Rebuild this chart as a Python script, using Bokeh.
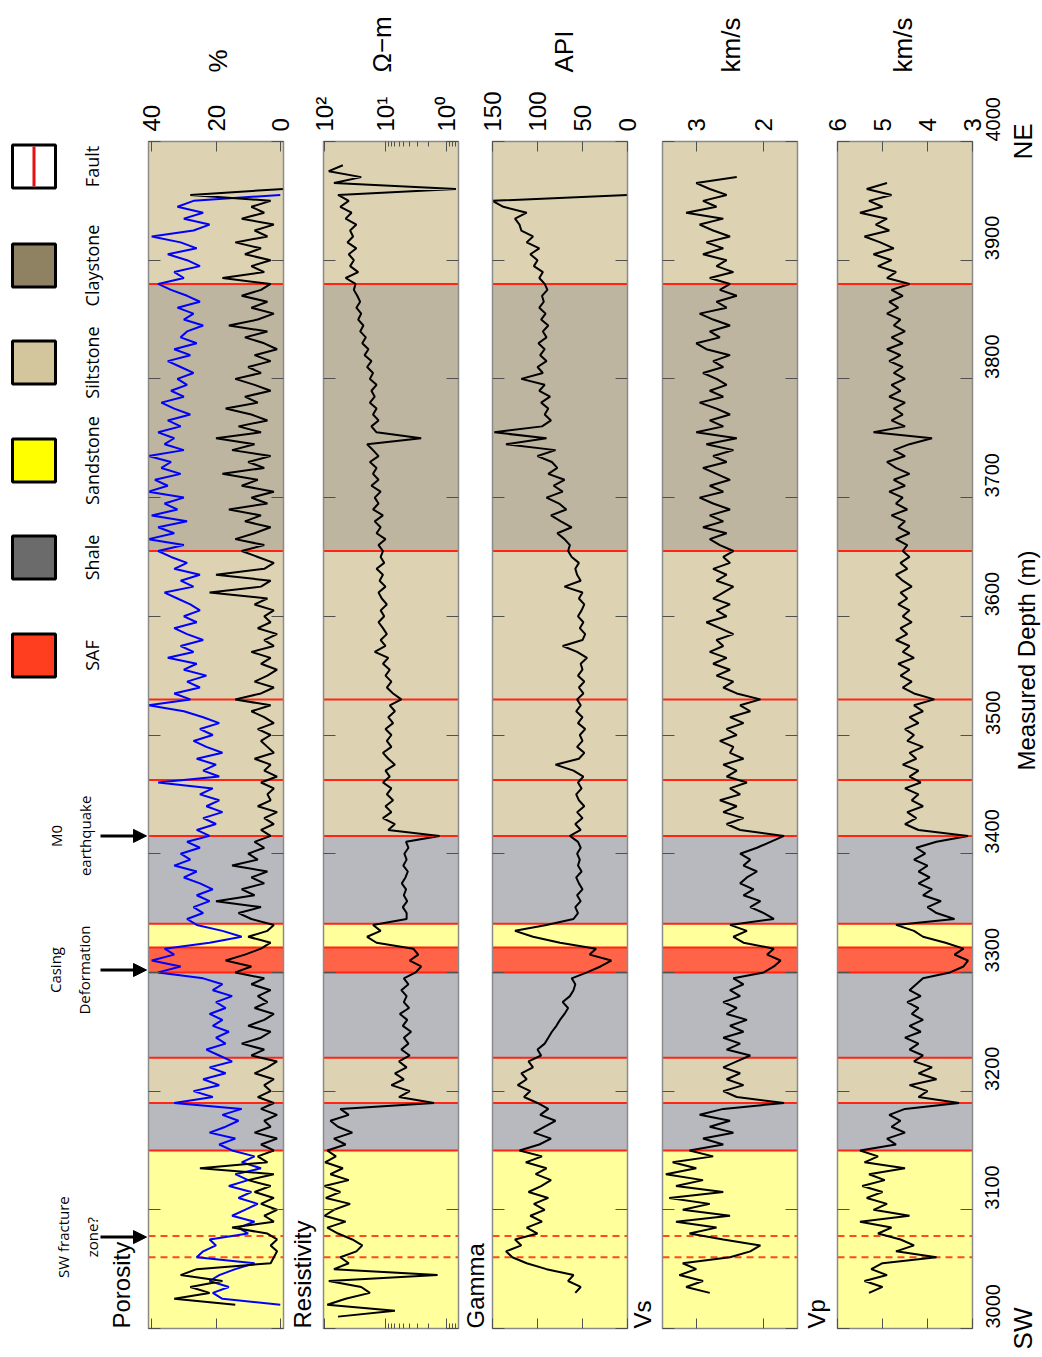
import math
import numpy as np
from bokeh.plotting import figure
from bokeh.models import (Range1d, LinearAxis, LogAxis, LogScale, FixedTicker,
                          ColumnDataSource, Arrow, NormalHead)
from bokeh.core.properties import value
from bokeh.embed import file_html
from bokeh.resources import INLINE

# ---------------- lithology column and markers (measured depth, m) ----------------
LITH_BASE = [3000, 3150, 3190, 3228, 3300, 3321, 3341, 3415, 3655, 3880]
LITH_TOP = [3150, 3190, 3228, 3300, 3321, 3341, 3415, 3655, 3880, 4000]
LITH_KIND = ["Sandstone", "Shale", "Siltstone", "Shale", "SAF", "Sandstone",
             "Shale", "Siltstone", "Claystone", "Siltstone"]
FAULTS = [3150, 3190, 3228, 3300, 3321, 3341, 3415, 3462, 3530, 3655, 3880]
FRACTURE_ZONE = [3060, 3078]

EVENT_DEPTH = [3077, 3302, 3415]
EVENT_TEXT = ["SW fracture\nzone?", "Casing\nDeformation", "M0\nearthquake"]

LEGEND_NAMES = ["SAF", "Shale", "Sandstone", "Siltstone", "Claystone", "Fault"]
LEGEND_COLORS = ["#FF3D1F", "#6B6B6B", "#FFFF00", "#D3C69C", "#8E8263", "#FFFFFF"]

DEPTH_TICKS = [3000, 3100, 3200, 3300, 3400, 3500, 3600, 3700, 3800, 3900, 4000]

# ---------------- log curves, sampled every 5 m ----------------
STEP = 5

POR_TOP = 3020
POROSITY = [
    14, 33, 22, 28, 18, 31, 26, 3, 2, 1,
    3, 1, 4, 15, 2, 5, 1, 6, 2, 8,
    3, 10, 2, 25, 4, 7, 2, 6, 1, 8,
    3, 5, 1, 6, 2, 7, 3, 5, 2, 8,
    4, 1, 9, 5, 12, 6, 3, 10, 5, 2,
    8, 4, 7, 3, 9, 5, 14, 9, 17, 11,
    6, 3, 10, 4, 2, 9, 13, 6, 20, 8,
    12, 5, 9, 4, 15, 7, 10, 5, 8, 3,
    6, 2, 5, 1, 7, 3, 4, 2, 6, 1,
    5, 3, 8, 2, 4, 6, 3, 7, 2, 5,
    9, 3, 14, 6, 2, 8, 4, 1, 6, 3,
    9, 2, 5, 1, 7, 3, 5, 2, 8, 4,
    22, 6, 3, 20, 5, 2, 7, 12, 5, 14,
    8, 3, 11, 6, 16, 4, 9, 2, 12, 7,
    18, 5, 10, 3, 15, 8, 20, 6, 13, 4,
    9, 17, 7, 11, 3, 8, 14, 6, 10, 3,
    8, 1, 5, 11, 4, 16, 7, 2, 9, 4,
    12, 6, 3, 18, 5, 9, 3, 11, 6, 14,
    4, 8, 2, 12, 5, 9, 3, 28, -1,
]

POR2_TOP = 3020
POROSITY_2 = [
    0, 18, 21, 16, 22, 19, 14, 8, 26, 24,
    20, 22, 10, 13, 8, 15, 11, 7, 13, 9,
    16, 10, 14, 6, 12, 8, 15, 19, 14, 22,
    17, 13, 18, 12, 33, 21, 27, 19, 24, 17,
    22, 15, 19, 23, 17, 20, 16, 21, 18, 22,
    17, 20, 15, 21, 18, 24, 38, 31, 40, 33,
    36, 22, 12, 18, 26, 29, 24, 27, 22, 26,
    21, 25, 30, 26, 33, 28, 31, 25, 29, 22,
    26, 20, 24, 18, 23, 19, 25, 21, 38, 19,
    24, 20, 26, 18, 23, 27, 21, 25, 19, 24,
    30, 41, 28, 33, 25, 29, 23, 30, 26, 35,
    27, 31, 24, 29, 33, 26, 30, 25, 28, 32,
    36, 27, 31, 25, 33, 29, 34, 38, 30, 41,
    33, 38, 29, 40, 32, 36, 30, 41, 35, 39,
    31, 37, 34, 41, 30, 36, 33, 38, 31, 35,
    28, 33, 37, 30, 34, 29, 32, 27, 31, 35,
    28, 33, 26, 31, 29, 24, 30, 27, 32, 25,
    29, 34, 38, 30, 33, 25, 29, 35, 26, 31,
    40, 27, 22, 30, 24, 32, 27, 0,
]

RES_TOP = 3010
RESISTIVITY = [
    60, 7, 90, 45, 18, 25, 85, 1.4, 70, 40,
    55, 30, 24, 35, 60, 90, 45, 100, 70, 38,
    95, 55, 100, 40, 80, 50, 98, 65, 90, 45,
    70, 35, 60, 80, 40, 55, 1.6, 6, 4, 8,
    5, 7, 4.5, 6, 4, 5.5, 4.2, 5, 3.8, 5.2,
    4.4, 5.8, 4.1, 5, 4.5, 5.5, 4.2, 5, 3.2, 2.6,
    4, 2.9, 3.5, 14, 20, 12, 16, 4.5, 4.5, 5.2,
    4.4, 5, 4.6, 5.4, 4.7, 4.3, 5.1, 4.5, 4.9, 4.2,
    4.6, 1.3, 9, 7, 11, 8, 10, 7.5, 9.5, 8,
    11, 8.5, 10, 7, 9, 11, 8, 9.5, 8, 10,
    7.5, 9, 7, 8.5, 5.5, 7.5, 9.5, 8, 10, 8.5,
    11, 9, 15, 10, 12, 9.5, 11, 13, 10.5, 12,
    9.5, 11.5, 13, 10, 12.5, 11, 14, 10.5, 12, 11,
    13, 10, 14, 12, 15, 11, 16, 13, 15, 12,
    17, 13, 16, 14, 18, 13, 16, 20, 2.6, 14,
    17, 13, 16, 14, 18, 15, 17, 14, 18, 16,
    20, 17, 22, 19, 24, 21, 26, 23, 28, 25,
    30, 26, 29, 33, 31, 45, 28, 38, 33, 40,
    30, 42, 34, 38, 30, 45, 36, 55, 40, 60,
    0.7, 70, 25, 85, 50,
]

GR_TOP = 3030
GAMMA = [
    58, 52, 66, 60, 90, 112, 128, 135, 118, 125,
    100, 112, 95, 108, 92, 104, 88, 110, 96, 85,
    102, 90, 113, 95, 120, 98, 85, 104, 92, 80,
    97, 88, 100, 115, 108, 122, 112, 118, 105, 110,
    96, 100, 92, 88, 84, 79, 75, 70, 66, 72,
    64, 60, 58, 62, 45, 30, 18, 42, 35, 75,
    105, 125, 90, 60, 55, 58, 52, 56, 50, 54,
    57, 51, 55, 53, 56, 52, 55, 64, 52, 58,
    50, 56, 48, 54, 57, 51, 55, 49, 60, 80,
    54, 48, 56, 50, 53, 47, 55, 50, 57, 52,
    56, 49, 54, 48, 55, 50, 52, 45, 56, 72,
    50, 47, 53, 49, 55, 51, 48, 54, 50, 70,
    52, 56, 58, 54, 62, 66, 64, 70, 78, 62,
    74, 85, 68, 76, 90, 72, 82, 70, 88, 78,
    84, 100, 80, 135, 90, 148, 95, 85, 92, 88,
    96, 86, 98, 92, 118, 94, 100, 90, 97, 92,
    99, 90, 94, 88, 96, 91, 98, 93, 95, 89,
    92, 98, 94, 104, 100, 108, 98, 112, 105, 118,
    120, 125, 112, 138, 150, 0,
]

VS_TOP = 3030
VS = [
    2.8, 3.15, 2.9, 3.25, 3.0, 3.2, 2.5, 2.2, 2.05, 2.6,
    3.1, 2.7, 3.3, 2.5, 3.2, 2.8, 3.4, 2.6, 3.3, 2.9,
    3.45, 3.0, 3.35, 2.75, 3.1, 2.6, 2.9, 2.45, 2.8, 2.5,
    2.95, 2.6, 1.7, 2.4, 2.6, 2.3, 2.55, 2.35, 2.6, 2.4,
    2.2, 2.55, 2.35, 2.6, 2.3, 2.5, 2.25, 2.55, 2.4, 2.6,
    2.35, 2.5, 2.3, 2.45, 2.0, 1.85, 1.75, 1.95, 1.85, 2.3,
    2.45, 2.25, 2.5, 1.85, 2.0, 2.2, 2.05, 2.3, 2.15, 2.35,
    2.25, 2.1, 2.3, 2.2, 2.35, 2.1, 1.9, 1.7, 2.35, 2.55,
    2.3, 2.6, 2.4, 2.65, 2.35, 2.5, 2.25, 2.55, 2.4, 2.6,
    2.3, 2.5, 2.45, 2.65, 2.4, 2.55, 2.3, 2.5, 2.2, 2.35,
    2.05, 2.4, 2.6, 2.45, 2.7, 2.5, 2.75, 2.55, 2.8, 2.6,
    2.7, 2.45, 2.65, 2.85, 2.55, 2.7, 2.5, 2.75, 2.6, 2.45,
    2.7, 2.55, 2.75, 2.5, 2.6, 2.45, 2.65, 2.8, 2.55, 2.9,
    2.6, 2.8, 2.5, 2.75, 2.95, 2.6, 2.8, 2.5, 2.7, 2.9,
    2.55, 2.75, 2.45, 2.85, 2.4, 3.0, 2.6, 2.8, 2.5, 2.7,
    2.95, 2.6, 2.8, 2.55, 2.7, 2.9, 2.6, 2.75, 2.5, 2.85,
    3.0, 2.65, 2.8, 2.5, 2.75, 2.95, 2.55, 2.7, 2.4, 2.65,
    2.5, 2.8, 2.45, 2.7, 2.55, 2.9, 2.6, 2.85, 2.5, 2.75,
    2.95, 2.6, 3.15, 2.7, 2.9, 2.55, 2.8, 3.0, 2.4,
]

VP_TOP = 3030
VP = [
    5.3, 5.0, 5.4, 4.9, 5.25, 5.0, 3.8, 4.7, 4.3, 4.6,
    5.1, 4.8, 5.5, 4.4, 5.2, 4.9, 5.35, 5.0, 5.45, 4.95,
    5.3, 4.5, 5.4, 5.1, 5.5, 4.7, 4.9, 4.5, 4.8, 4.6,
    4.85, 4.5, 3.3, 4.2, 4.0, 4.4, 3.8, 4.2, 3.9, 4.3,
    4.1, 4.4, 4.2, 4.5, 4.15, 4.4, 4.1, 4.35, 4.2, 4.45,
    4.15, 4.4, 4.25, 4.1, 3.5, 3.2, 3.1, 3.4, 3.2, 3.6,
    4.1, 4.3, 4.7, 3.4, 3.8, 4.0, 3.7, 4.1, 3.9, 4.2,
    3.95, 4.2, 4.0, 4.3, 4.05, 4.25, 3.8, 3.1, 4.2, 4.5,
    4.25, 4.45, 4.1, 4.35, 4.2, 4.5, 4.15, 4.4, 4.2, 4.55,
    4.25, 4.4, 4.1, 4.45, 4.3, 4.5, 4.2, 4.4, 4.1, 4.3,
    3.85, 4.3, 4.55, 4.35, 4.6, 4.4, 4.65, 4.3, 4.55, 4.4,
    4.7, 4.45, 4.6, 4.35, 4.55, 4.4, 4.65, 4.45, 4.6, 4.35,
    4.55, 4.7, 4.45, 4.6, 4.4, 4.55, 4.45, 4.7, 4.4, 4.65,
    4.5, 4.8, 4.45, 4.7, 4.55, 4.85, 4.5, 4.75, 4.4, 4.7,
    4.9, 4.5, 4.75, 4.4, 3.9, 5.2, 4.5, 4.8, 4.55, 4.75,
    4.5, 4.85, 4.6, 4.8, 4.5, 4.75, 4.55, 4.85, 4.6, 4.9,
    4.55, 4.8, 4.5, 4.75, 4.6, 4.9, 4.65, 4.85, 4.55, 4.8,
    4.4, 4.9, 4.7, 5.1, 4.8, 5.2, 4.75, 5.05, 5.4, 4.85,
    5.15, 4.9, 5.5, 5.0, 5.3, 4.8, 5.35, 4.9,
]


def depths(top, vals):
    return list(np.arange(len(vals)) * STEP + top)


# ---------------- page geometry ----------------
W, H = 1042, 1357
PAD_TOP, PAD_BOTTOM = 141, 29          # track tops / bottoms on the page
DEPTH_MIN, DEPTH_MAX = 3000, 4000
M_PER_PX = (DEPTH_MAX - DEPTH_MIN) / (H - PAD_TOP - PAD_BOTTOM)

FILL = {
    "Sandstone": "#FFFF9C",
    "Shale": "#B8B8BF",
    "Siltstone": "#DDD3B3",
    "Claystone": "#BEB5A0",
    "SAF": "#FF6449",
}
FAULT_RED = "#FF2414"
TICK_COLOR = "#505050"
SANS = "Liberation Sans"
HUMANIST = "Open Sans"

# track layout: value limits at the left/right edge, and the page column it occupies
TRACKS = [
    dict(key="por", name="Porosity", unit="%", lim=(41, -1), cols=(148, 283),
         ticks=[0, 20, 40], name_x=121, unit_x=217),
    dict(key="res", name="Resistivity", unit="\u03a9\u2212m", lim=(103.8, 0.635),
         cols=(323, 458), ticks=[1, 10, 100], log=True,
         minor=[0.7, 0.8, 0.9, 2, 3, 4, 5, 6, 7, 8, 9],
         overrides={1: "10\u2070", 10: "10\u00b9", 100: "10\u00b2"},
         name_x=302, unit_x=381),
    dict(key="gam", name="Gamma", unit="API", lim=(150, 0), cols=(492, 627),
         ticks=[0, 50, 100, 150], name_x=475, unit_x=563),
    dict(key="vs", name="Vs", unit="km/s", lim=(3.5, 1.5), cols=(662, 797),
         ticks=[2, 3], name_x=642, unit_x=730),
    dict(key="vp", name="Vp", unit="km/s", lim=(6, 3), cols=(837, 972),
         ticks=[3, 4, 5, 6], name_x=816, unit_x=902),
]

CURVES = {
    "por": [(POROSITY_2, depths(POR2_TOP, POROSITY_2), "#0000FF"),
            (POROSITY, depths(POR_TOP, POROSITY), "black")],
    "res": [(RESISTIVITY, depths(RES_TOP, RESISTIVITY), "black")],
    "gam": [(GAMMA, depths(GR_TOP, GAMMA), "black")],
    "vs": [(VS, depths(VS_TOP, VS), "black")],
    "vp": [(VP, depths(VP_TOP, VP), "black")],
}


def page_range(lim, cols, log=False):
    """Range over the full page width that puts lim[0] at cols[0] and lim[1] at cols[1]."""
    a, b = lim
    if log:
        a, b = math.log10(a), math.log10(b)
    slope = (b - a) / (cols[1] - cols[0])
    start = a - cols[0] * slope
    end = a + (W - cols[0]) * slope
    if log:
        return Range1d(10 ** start, 10 ** end)
    return Range1d(start, end)


p = figure(frame_width=W, frame_height=H,
           x_range=Range1d(0, W),
           y_range=Range1d(DEPTH_MIN - PAD_BOTTOM * M_PER_PX, DEPTH_MAX + PAD_TOP * M_PER_PX),
           x_axis_location=None, y_axis_location=None, min_border=0,
           output_backend="svg", toolbar_location=None, outline_line_color=None,
           background_fill_color="white", border_fill_color="white")
p.grid.visible = False
p.extra_y_ranges = {"px": Range1d(H, 0)}
p.extra_x_ranges = {t["key"]: page_range(t["lim"], t["cols"], t.get("log", False)) for t in TRACKS}
p.extra_x_scales = {t["key"]: LogScale() for t in TRACKS if t.get("log")}

depth_ticker = FixedTicker(ticks=DEPTH_TICKS)


def inward(ax, length, labels=False):
    ax.axis_line_color = None
    ax.major_tick_in = length
    ax.major_tick_out = 0
    ax.minor_tick_in = 5
    ax.minor_tick_out = 0
    ax.major_tick_line_color = TICK_COLOR
    ax.minor_tick_line_color = TICK_COLOR
    if not labels:
        ax.major_label_text_color = None
    return ax


lith = ColumnDataSource(dict(base=LITH_BASE, top=LITH_TOP,
                             color=[FILL[k] for k in LITH_KIND]))

for t in TRACKS:
    key = t["key"]
    v_left, v_right = t["lim"]
    log = t.get("log", False)
    AxisCls = LogAxis if log else LinearAxis

    # lithology background, faults and the fracture zone
    p.quad(left=v_left, right=v_right, bottom="base", top="top", fill_color="color",
           line_color=None, source=lith, x_range_name=key)
    p.segment(x0=v_left, x1=v_right, y0=FAULTS, y1=FAULTS, line_color=FAULT_RED,
              line_width=2, x_range_name=key)
    p.segment(x0=v_left, x1=v_right, y0=FRACTURE_ZONE, y1=FRACTURE_ZONE,
              line_color="#FF4A1A", line_width=2, line_dash="7 5", x_range_name=key)

    for xs, ys, color in CURVES[key]:
        p.line(x=xs, y=ys, line_color=color, line_width=2, x_range_name=key)

    p.quad(left=v_left, right=v_right, bottom=DEPTH_MIN, top=DEPTH_MAX,
           fill_color=None, line_color="#8A8A8A", line_width=1.5, x_range_name=key)

    ticker = FixedTicker(ticks=t["ticks"], minor_ticks=t.get("minor", []))
    top = inward(AxisCls(ticker=ticker, x_range_name=key, fixed_location=DEPTH_MAX), 10,
                 labels=True)
    top.major_label_orientation = "vertical"
    top.major_label_standoff = 10
    top.major_label_text_font = SANS
    top.major_label_text_font_size = "24px"
    top.major_label_text_color = "black"
    if t.get("overrides"):
        top.major_label_overrides = t["overrides"]
    p.add_layout(top, "above")
    p.add_layout(inward(AxisCls(ticker=ticker, x_range_name=key,
                                fixed_location=DEPTH_MIN), 10), "below")

    p.add_layout(inward(LinearAxis(ticker=depth_ticker, x_range_name=key,
                                   fixed_location=v_left), 12), "left")
    right = inward(LinearAxis(ticker=depth_ticker, x_range_name=key,
                              fixed_location=v_right), 12, labels=(key == "vp"))
    if key == "vp":
        right.major_label_orientation = math.pi / 2
        right.major_label_standoff = 20
        right.major_label_text_font = SANS
        right.major_label_text_font_size = "20px"
        right.major_label_text_color = "black"
    p.add_layout(right, "right")

# track names at the shallow end, units above the scales
p.text(x=[t["name_x"] for t in TRACKS], y=[DEPTH_MIN] * len(TRACKS),
       text=[t["name"] for t in TRACKS], angle=math.pi / 2, text_align="left",
       text_baseline="middle", text_font=value(SANS), text_font_size="24px",
       text_color="black")
p.text(x=[t["unit_x"] for t in TRACKS], y=[72] * len(TRACKS),
       text=[t["unit"] for t in TRACKS], angle=math.pi / 2, text_align="left",
       text_baseline="middle", text_font=value(SANS), text_font_size="26px",
       text_color="black", y_range_name="px")

# depth axis title and the two ends of the well
p.text(x=[1026], y=[660], text=["Measured Depth (m)"], angle=math.pi / 2,
       text_align="center", text_baseline="middle", text_font=value(SANS),
       text_font_size="24px", text_color="black", y_range_name="px")
p.text(x=[1022, 1022], y=[DEPTH_MIN, DEPTH_MAX], text=["SW", "NE"], angle=math.pi / 2,
       text_align="center", text_baseline="middle", text_font=value(SANS),
       text_font_size="26px", text_color="black")

# lithology legend
legend_y = [655, 557, 460, 362, 265, 166]
p.rect(x=33.5, y=legend_y, width=43, height=43, width_units="screen",
       height_units="screen", fill_color=LEGEND_COLORS, line_color="black",
       line_width=3, y_range_name="px")
fault_y = legend_y[LEGEND_NAMES.index("Fault")]
p.segment(x0=33.5, x1=33.5, y0=fault_y - 20, y1=fault_y + 20, line_color="#E81010",
          line_width=3, y_range_name="px")
p.text(x=91, y=legend_y, text=LEGEND_NAMES, angle=math.pi / 2, text_align="center",
       text_baseline="middle", text_font=value(HUMANIST), text_font_size="18px",
       text_color="black", y_range_name="px")

# events marked along the porosity track
p.text(x=[77, 69, 70], y=EVENT_DEPTH, text=EVENT_TEXT, angle=math.pi / 2,
       text_align="center", text_baseline="middle", text_line_height=1.45,
       text_font=value(HUMANIST), text_font_size="15px", text_color="black")
for d in EVENT_DEPTH:
    p.add_layout(Arrow(end=NormalHead(size=13, fill_color="black", line_color="black"),
                       x_start=100, y_start=d, x_end=146, y_end=d,
                       line_color="black", line_width=3))

open("out.html", "w").write(file_html(p, INLINE, "Well logs"))
